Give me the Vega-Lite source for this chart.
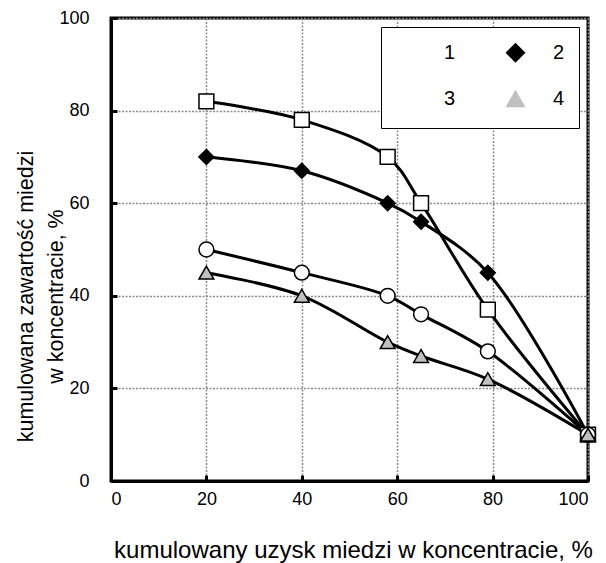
{
  "$schema": "https://vega.github.io/schema/vega-lite/v6.json",
  "width": 477,
  "height": 463,
  "autosize": {"type": "none"},
  "padding": {"left": 111, "top": 18, "right": 18, "bottom": 82},
  "background": "white",
  "config": {
    "font": "Liberation Sans",
    "view": {"stroke": "black", "strokeWidth": 3},
    "axis": {
      "domainColor": "black",
      "domainWidth": 3,
      "tickColor": "black",
      "tickWidth": 3,
      "tickSize": -6,
      "gridColor": "#8a8a8a",
      "gridDash": [2, 1.5],
      "gridWidth": 1.5,
      "labelFont": "Liberation Sans",
      "labelFontSize": 18,
      "labelColor": "black",
      "titleFont": "Liberation Sans",
      "titleFontWeight": "normal",
      "titleColor": "black"
    },
    "legend": {
      "orient": "top-right",
      "offset": 9,
      "direction": "horizontal",
      "columns": 2,
      "padding": 14,
      "rowPadding": 15,
      "columnPadding": 44,
      "fillColor": "white",
      "strokeColor": "black",
      "symbolSize": 400,
      "labelOffset": 26,
      "labelFontSize": 20,
      "labelFont": "Liberation Sans",
      "labelColor": "black",
      "symbolStrokeColor": "black",
      "symbolStrokeWidth": 2.5
    }
  },
  "data": {
    "values": [
      {"series": "1", "x": 20, "y": 82},
      {"series": "1", "x": 40, "y": 78},
      {"series": "1", "x": 58, "y": 70},
      {"series": "1", "x": 65, "y": 60},
      {"series": "1", "x": 79, "y": 37},
      {"series": "1", "x": 100, "y": 10},
      {"series": "2", "x": 20, "y": 70},
      {"series": "2", "x": 40, "y": 67},
      {"series": "2", "x": 58, "y": 60},
      {"series": "2", "x": 65, "y": 56},
      {"series": "2", "x": 79, "y": 45},
      {"series": "2", "x": 100, "y": 10},
      {"series": "3", "x": 20, "y": 50},
      {"series": "3", "x": 40, "y": 45},
      {"series": "3", "x": 58, "y": 40},
      {"series": "3", "x": 65, "y": 36},
      {"series": "3", "x": 79, "y": 28},
      {"series": "3", "x": 100, "y": 10},
      {"series": "4", "x": 20, "y": 45},
      {"series": "4", "x": 40, "y": 40},
      {"series": "4", "x": 58, "y": 30},
      {"series": "4", "x": 65, "y": 27},
      {"series": "4", "x": 79, "y": 22},
      {"series": "4", "x": 100, "y": 10}
    ]
  },
  "encoding": {
    "x": {
      "field": "x",
      "type": "quantitative",
      "scale": {"domain": [0, 100]},
      "axis": {
        "values": [0, 20, 40, 60, 80, 100],
        "labelPadding": 15,
        "title": "kumulowany uzysk miedzi w koncentracie, %",
        "titleFontSize": 24,
        "titleBaseline": "alphabetic",
        "titleY": 76,
        "titleX": 242,
        "titleAlign": "center"
      }
    },
    "y": {
      "field": "y",
      "type": "quantitative",
      "scale": {"domain": [0, 100]},
      "axis": {
        "values": [0, 20, 40, 60, 80, 100],
        "labelPadding": 28,
        "title": ["kumulowana zawartość miedzi", "w koncentracie, %\u00a0\u00a0\u00a0\u00a0\u00a0\u00a0"],
        "titleFontSize": 21.5,
        "titleX": -79,
        "titleY": 278,
        "titleAlign": "center",
        "titleBaseline": "alphabetic",
        "titleLineHeight": 30
      }
    }
  },
  "layer": [
    {
      "mark": {"type": "line", "color": "black", "strokeWidth": 3, "interpolate": "catmull-rom"},
      "encoding": {"detail": {"field": "series"}}
    },
    {
      "mark": {"type": "point", "filled": true, "stroke": "black", "strokeWidth": 1.5, "size": 220, "opacity": 1},
      "encoding": {
        "shape": {
          "field": "series",
          "type": "nominal",
          "scale": {"domain": ["1", "2", "3", "4"], "range": ["square", "diamond", "circle", "triangle-up"]},
          "legend": {
            "title": null,
            "encode": {
              "legend": {"update": {"strokeWidth": {"value": 2}}},
              "symbols": {
                "update": {
                  "shape": {
                    "condition": [
                      {"test": "datum.value == '1'", "value": "M-1,0H0.4M1.6,0H3M0.4,-0.6H1.6V0.6H0.4Z"},
                      {"test": "datum.value == '2'", "value": "M-1,0H0.3M1.7,0H3M1,-0.7L1.7,0L1,0.7L0.3,0Z"},
                      {"test": "datum.value == '3'", "value": "M-1,0H0.35M1.65,0H3M0.35,0A0.65,0.65,0,1,0,1.65,0A0.65,0.65,0,1,0,0.35,0Z"}
                    ],
                    "value": "M-1,0H3M1,-0.75L1.72,0.5L0.28,0.5Z"
                  },
                  "stroke": {"value": "black"},
                  "strokeWidth": {"value": 2.5}
                }
              }
            }
          }
        },
        "fill": {
          "field": "series",
          "type": "nominal",
          "scale": {"domain": ["1", "2", "3", "4"], "range": ["white", "black", "white", "#c0c0c0"]},
          "legend": {
            "title": null,
            "encode": {
              "legend": {"update": {"strokeWidth": {"value": 2}}},
              "symbols": {
                "update": {
                  "shape": {
                    "condition": [
                      {"test": "datum.value == '1'", "value": "M-1,0H0.4M1.6,0H3M0.4,-0.6H1.6V0.6H0.4Z"},
                      {"test": "datum.value == '2'", "value": "M-1,0H0.3M1.7,0H3M1,-0.7L1.7,0L1,0.7L0.3,0Z"},
                      {"test": "datum.value == '3'", "value": "M-1,0H0.35M1.65,0H3M0.35,0A0.65,0.65,0,1,0,1.65,0A0.65,0.65,0,1,0,0.35,0Z"}
                    ],
                    "value": "M-1,0H3M1,-0.75L1.72,0.5L0.28,0.5Z"
                  },
                  "stroke": {"value": "black"},
                  "strokeWidth": {"value": 2.5}
                }
              }
            }
          }
        }
      }
    }
  ]
}
